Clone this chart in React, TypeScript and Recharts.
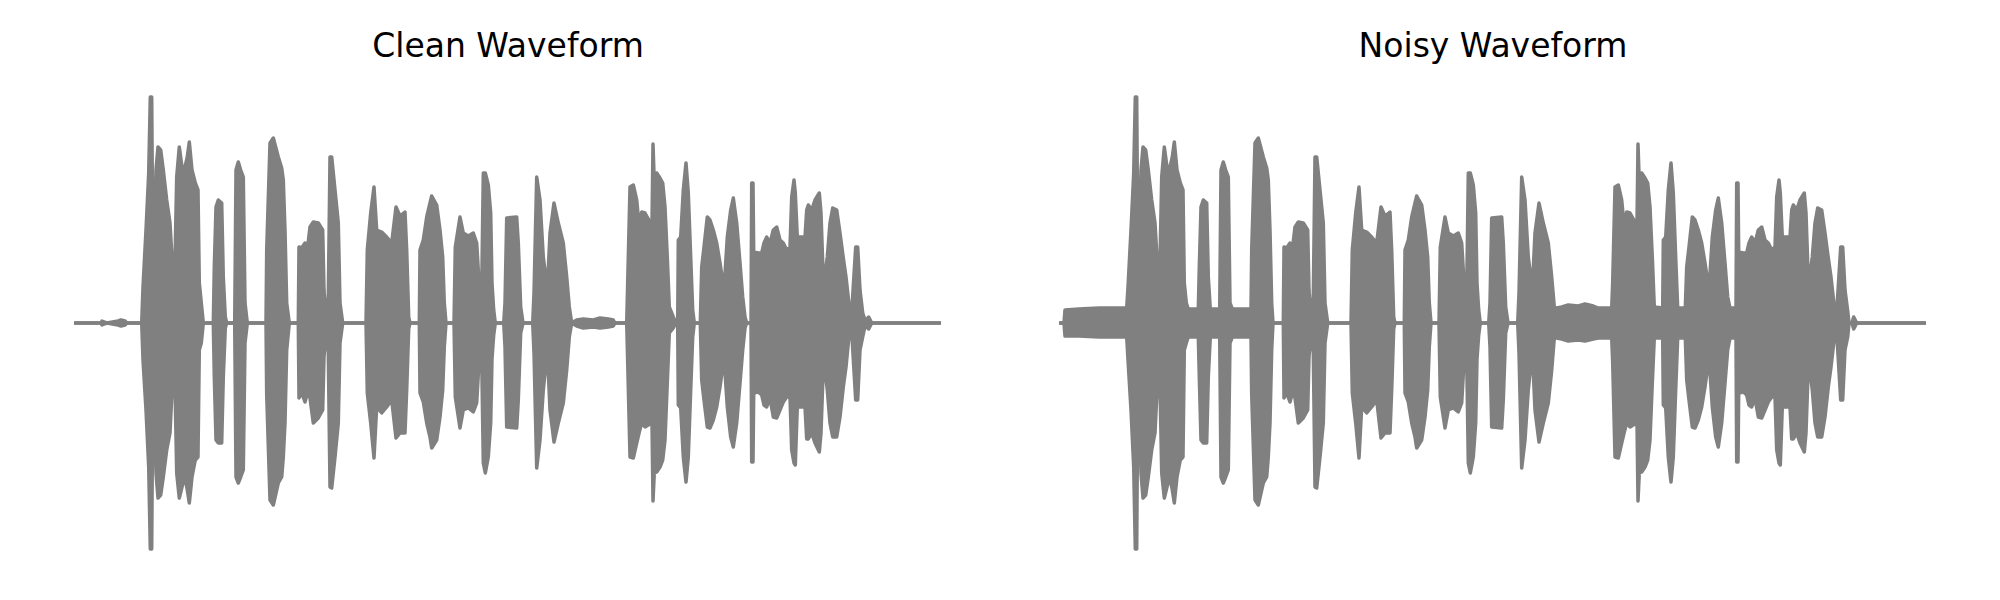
import React from 'react';
import { AreaChart, Area, XAxis, YAxis } from 'recharts';

// [time (s), upper envelope, lower envelope]
type Envelope = [number, number, number][];

const panelTitles = ['Clean Waveform', 'Noisy Waveform'];

const cleanEnvelope: Envelope = [
  [0.01, 0, 0], [0.27, 0, 0], [0.28, 0.002, -0.002], [0.3, 0.001, -0.001], [0.33, 0, 0],
  [0.44, 0.002, -0.002], [0.47, 0.003, -0.003], [0.51, 0.002, -0.002], [0.53, 0, 0],
  [0.677, 0, 0], [0.69, 0.036, -0.037], [0.72, 0.093, -0.087], [0.747, 0.15, -0.144],
  [0.763, 0.226, -0.226], [0.777, 0.226, -0.226], [0.787, 0.086, -0.08], [0.803, 0.083, -0.087],
  [0.82, 0.153, -0.15], [0.84, 0.176, -0.175], [0.867, 0.173, -0.172], [0.893, 0.153, -0.154],
  [0.927, 0.123, -0.127], [0.96, 0.1, -0.11], [0.987, 0.053, -0.054], [1.007, 0.046, -0.047],
  [1.027, 0.146, -0.15], [1.053, 0.176, -0.175], [1.08, 0.156, -0.164], [1.11, 0.156, -0.154],
  [1.133, 0.166, -0.167], [1.153, 0.181, -0.18], [1.18, 0.153, -0.154], [1.213, 0.14, -0.137],
  [1.24, 0.133, -0.134], [1.253, 0.04, -0.027], [1.273, 0.02, -0.02], [1.293, 0, 0],
  [1.393, 0, 0], [1.403, 0.056, -0.054], [1.42, 0.116, -0.117], [1.443, 0.123, -0.12],
  [1.477, 0.12, -0.12], [1.493, 0.046, -0.054], [1.513, 0.006, -0.005], [1.527, 0, 0],
  [1.607, 0, 0], [1.62, 0.153, -0.154], [1.643, 0.161, -0.16], [1.667, 0.153, -0.154],
  [1.693, 0.146, -0.147], [1.71, 0.02, -0.02], [1.733, 0, 0],
  [1.92, 0, 0], [1.927, 0.073, -0.072], [1.96, 0.18, -0.177], [1.993, 0.185, -0.182],
  [2.043, 0.166, -0.16], [2.077, 0.155, -0.154], [2.093, 0.143, -0.134], [2.11, 0.093, -0.1],
  [2.127, 0.02, -0.027], [2.153, 0, 0],
  [2.243, 0, 0], [2.25, 0.076, -0.075], [2.277, 0.075, -0.07], [2.31, 0.08, -0.079],
  [2.333, 0.073, -0.07], [2.36, 0.096, -0.075], [2.393, 0.101, -0.1], [2.443, 0.1, -0.095],
  [2.487, 0.093, -0.087], [2.5, 0.033, -0.034], [2.52, 0.006, -0.007], [2.543, 0.026, -0.03],
  [2.56, 0.166, -0.164], [2.577, 0.166, -0.165], [2.61, 0.133, -0.134], [2.643, 0.1, -0.1],
  [2.66, 0.02, -0.02], [2.687, 0, 0],
  [2.92, 0, 0], [2.933, 0.073, -0.07], [2.967, 0.11, -0.1], [3.0, 0.136, -0.135],
  [3.027, 0.093, -0.084], [3.077, 0.091, -0.09], [3.127, 0.086, -0.084], [3.177, 0.08, -0.077],
  [3.22, 0.116, -0.115], [3.26, 0.107, -0.11], [3.31, 0.111, -0.11], [3.327, 0.073, -0.067],
  [3.347, 0.006, -0.006], [3.36, 0, 0],
  [3.453, 0, 0], [3.46, 0.073, -0.07], [3.493, 0.083, -0.079], [3.527, 0.106, -0.1],
  [3.56, 0.12, -0.114], [3.577, 0.127, -0.125], [3.627, 0.118, -0.117], [3.66, 0.093, -0.094],
  [3.687, 0.066, -0.067], [3.703, 0.02, -0.024], [3.72, 0, 0],
  [3.8, 0, 0], [3.813, 0.076, -0.074], [3.86, 0.106, -0.105], [3.893, 0.09, -0.087],
  [3.943, 0.087, -0.085], [3.993, 0.09, -0.089], [4.027, 0.08, -0.08], [4.053, 0.036, -0.034],
  [4.077, 0.033, -0.035], [4.093, 0.15, -0.14], [4.113, 0.15, -0.15], [4.143, 0.138, -0.134],
  [4.167, 0.11, -0.1], [4.18, 0.04, -0.036], [4.197, 0.013, -0.012], [4.213, 0, 0],
  [4.297, 0, 0], [4.31, 0.02, -0.024], [4.327, 0.105, -0.104], [4.427, 0.106, -0.105],
  [4.443, 0.08, -0.077], [4.467, 0.016, -0.01], [4.49, 0, 0],
  [4.587, 0, 0], [4.6, 0.03, -0.03], [4.627, 0.146, -0.145], [4.66, 0.123, -0.117],
  [4.693, 0.066, -0.067], [4.733, 0.033, -0.027], [4.76, 0.09, -0.087], [4.8, 0.12, -0.119],
  [4.843, 0.1, -0.1], [4.893, 0.08, -0.08], [4.927, 0.046, -0.047], [4.953, 0.016, -0.014],
  [4.977, 0, 0], [5.027, 0.003, -0.003], [5.093, 0.004, -0.005], [5.193, 0.003, -0.004],
  [5.26, 0.005, -0.005], [5.343, 0.004, -0.004], [5.393, 0.003, -0.003], [5.41, 0, 0],
  [5.527, 0, 0], [5.537, 0.041, -0.04], [5.56, 0.136, -0.134], [5.593, 0.138, -0.135],
  [5.627, 0.123, -0.12], [5.653, 0.095, -0.109], [5.677, 0.111, -0.1], [5.71, 0.11, -0.104],
  [5.76, 0.101, -0.101], [5.78, 0.1, -0.1], [5.79, 0.179, -0.178], [5.803, 0.14, -0.15],
  [5.827, 0.15, -0.149], [5.86, 0.145, -0.144], [5.887, 0.14, -0.137], [5.91, 0.116, -0.117],
  [5.933, 0.066, -0.06], [5.953, 0.016, -0.01], [5.993, 0.006, -0.005], [6.02, 0, 0],
  [6.037, 0, 0], [6.043, 0.083, -0.082], [6.067, 0.086, -0.085], [6.093, 0.133, -0.134],
  [6.12, 0.16, -0.159], [6.143, 0.13, -0.134], [6.167, 0.066, -0.067], [6.187, 0.013, -0.014],
  [6.203, 0, 0],
  [6.263, 0, 0], [6.277, 0.056, -0.057], [6.3, 0.076, -0.077], [6.333, 0.106, -0.104],
  [6.36, 0.103, -0.105], [6.393, 0.093, -0.097], [6.427, 0.08, -0.084], [6.46, 0.06, -0.064],
  [6.5, 0.033, -0.034], [6.533, 0.086, -0.084], [6.567, 0.113, -0.114], [6.593, 0.125, -0.124],
  [6.627, 0.1, -0.1], [6.66, 0.06, -0.06], [6.687, 0.026, -0.027], [6.71, 0.006, -0.005],
  [6.727, 0, 0],
  [6.77, 0, 0], [6.777, 0.14, -0.139], [6.79, 0.14, -0.139], [6.797, 0.071, -0.07],
  [6.843, 0.07, -0.069], [6.877, 0.07, -0.072], [6.9, 0.08, -0.082], [6.927, 0.086, -0.084],
  [6.96, 0.08, -0.075], [6.993, 0.093, -0.094], [7.027, 0.096, -0.095], [7.06, 0.083, -0.087],
  [7.093, 0.08, -0.079], [7.127, 0.073, -0.074], [7.16, 0.076, -0.074], [7.177, 0.126, -0.127],
  [7.2, 0.143, -0.14], [7.213, 0.13, -0.142], [7.233, 0.086, -0.084], [7.31, 0.086, -0.084],
  [7.327, 0.113, -0.116], [7.343, 0.118, -0.116], [7.377, 0.113, -0.11], [7.41, 0.123, -0.12],
  [7.453, 0.13, -0.129], [7.47, 0.11, -0.11], [7.493, 0.043, -0.044], [7.513, 0.05, -0.05],
  [7.533, 0.066, -0.067], [7.56, 0.1, -0.1], [7.587, 0.115, -0.114], [7.627, 0.113, -0.114],
  [7.66, 0.09, -0.094], [7.693, 0.065, -0.064], [7.72, 0.046, -0.044], [7.753, 0.016, -0.01],
  [7.78, 0.016, -0.014], [7.817, 0.076, -0.077], [7.837, 0.076, -0.077], [7.86, 0.033, -0.027],
  [7.887, 0.01, -0.014], [7.913, 0.002, -0.002], [7.947, 0.006, -0.006], [7.977, 0, 0],
  [8.66, 0, 0],
];

const noisyEnvelope: Envelope = [
  [0.01, 0, 0], [0.05, 0, 0], [0.06, 0.013, -0.013], [0.2, 0.014, -0.013], [0.4, 0.015, -0.014],
  [0.6, 0.015, -0.014], [0.677, 0.015, -0.014], [0.69, 0.036, -0.037], [0.72, 0.093, -0.087],
  [0.747, 0.15, -0.144], [0.763, 0.226, -0.226], [0.777, 0.226, -0.226], [0.787, 0.086, -0.08],
  [0.803, 0.083, -0.087], [0.82, 0.153, -0.15], [0.84, 0.176, -0.175], [0.867, 0.173, -0.172],
  [0.893, 0.153, -0.154], [0.927, 0.123, -0.127], [0.96, 0.1, -0.11], [0.987, 0.053, -0.054],
  [1.007, 0.046, -0.047], [1.027, 0.146, -0.15], [1.053, 0.176, -0.175], [1.08, 0.156, -0.164],
  [1.11, 0.156, -0.154], [1.133, 0.166, -0.167], [1.153, 0.181, -0.18], [1.18, 0.153, -0.154],
  [1.213, 0.14, -0.137], [1.24, 0.133, -0.134], [1.253, 0.04, -0.027], [1.273, 0.02, -0.02],
  [1.293, 0.014, -0.014], [1.393, 0.014, -0.014], [1.403, 0.056, -0.054], [1.42, 0.116, -0.117],
  [1.443, 0.123, -0.12], [1.477, 0.12, -0.12], [1.493, 0.046, -0.054], [1.513, 0.014, -0.014],
  [1.607, 0.014, -0.014], [1.62, 0.153, -0.154], [1.643, 0.161, -0.16], [1.667, 0.153, -0.154],
  [1.693, 0.146, -0.147], [1.71, 0.02, -0.02], [1.733, 0.014, -0.014], [1.92, 0.014, -0.014],
  [1.927, 0.073, -0.072], [1.96, 0.18, -0.177], [1.993, 0.185, -0.182], [2.043, 0.166, -0.16],
  [2.077, 0.155, -0.154], [2.093, 0.143, -0.134], [2.11, 0.093, -0.1], [2.127, 0.02, -0.027],
  [2.14, 0, 0], [2.153, 0, 0],
  [2.243, 0, 0], [2.25, 0.076, -0.075], [2.277, 0.075, -0.07], [2.31, 0.08, -0.079],
  [2.333, 0.073, -0.07], [2.36, 0.096, -0.075], [2.393, 0.101, -0.1], [2.443, 0.1, -0.095],
  [2.487, 0.093, -0.087], [2.5, 0.033, -0.034], [2.52, 0.006, -0.007], [2.543, 0.026, -0.03],
  [2.56, 0.166, -0.164], [2.577, 0.166, -0.165], [2.61, 0.133, -0.134], [2.643, 0.1, -0.1],
  [2.66, 0.02, -0.02], [2.687, 0, 0],
  [2.92, 0, 0], [2.933, 0.073, -0.07], [2.967, 0.11, -0.1], [3.0, 0.136, -0.135],
  [3.027, 0.093, -0.084], [3.077, 0.091, -0.09], [3.127, 0.086, -0.084], [3.177, 0.08, -0.077],
  [3.22, 0.116, -0.115], [3.26, 0.107, -0.11], [3.31, 0.111, -0.11], [3.327, 0.073, -0.067],
  [3.347, 0.006, -0.006], [3.36, 0, 0],
  [3.453, 0, 0], [3.46, 0.073, -0.07], [3.493, 0.083, -0.079], [3.527, 0.106, -0.1],
  [3.56, 0.12, -0.114], [3.577, 0.127, -0.125], [3.627, 0.118, -0.117], [3.66, 0.093, -0.094],
  [3.687, 0.066, -0.067], [3.703, 0.02, -0.024], [3.72, 0, 0],
  [3.8, 0, 0], [3.813, 0.076, -0.074], [3.86, 0.106, -0.105], [3.893, 0.09, -0.087],
  [3.943, 0.087, -0.085], [3.993, 0.09, -0.089], [4.027, 0.08, -0.08], [4.053, 0.036, -0.034],
  [4.077, 0.033, -0.035], [4.093, 0.15, -0.14], [4.113, 0.15, -0.15], [4.143, 0.138, -0.134],
  [4.167, 0.11, -0.1], [4.18, 0.04, -0.036], [4.197, 0.013, -0.012], [4.213, 0, 0],
  [4.297, 0, 0], [4.31, 0.02, -0.024], [4.327, 0.105, -0.104], [4.427, 0.106, -0.105],
  [4.443, 0.08, -0.077], [4.467, 0.016, -0.01], [4.49, 0, 0],
  [4.587, 0, 0], [4.6, 0.03, -0.03], [4.627, 0.146, -0.145], [4.66, 0.123, -0.117],
  [4.693, 0.066, -0.067], [4.733, 0.033, -0.027], [4.76, 0.09, -0.087], [4.8, 0.12, -0.119],
  [4.843, 0.1, -0.1], [4.893, 0.08, -0.08], [4.927, 0.046, -0.047], [4.953, 0.016, -0.015],
  [4.977, 0.015, -0.015], [5.027, 0.016, -0.016], [5.093, 0.018, -0.018], [5.193, 0.017, -0.017],
  [5.26, 0.019, -0.018], [5.343, 0.017, -0.016], [5.393, 0.015, -0.015], [5.527, 0.015, -0.015],
  [5.537, 0.041, -0.04], [5.56, 0.136, -0.134], [5.593, 0.138, -0.135], [5.627, 0.123, -0.12],
  [5.653, 0.095, -0.109], [5.677, 0.111, -0.1], [5.71, 0.11, -0.104], [5.76, 0.101, -0.101],
  [5.78, 0.1, -0.1], [5.79, 0.179, -0.178], [5.803, 0.14, -0.15], [5.827, 0.15, -0.149],
  [5.86, 0.145, -0.144], [5.887, 0.14, -0.137], [5.91, 0.116, -0.117], [5.933, 0.066, -0.06],
  [5.953, 0.016, -0.015], [6.037, 0.015, -0.015], [6.043, 0.083, -0.082], [6.067, 0.086, -0.085],
  [6.093, 0.133, -0.134], [6.12, 0.16, -0.159], [6.143, 0.13, -0.134], [6.167, 0.066, -0.067],
  [6.187, 0.015, -0.015], [6.263, 0.015, -0.015], [6.277, 0.056, -0.057], [6.3, 0.076, -0.077],
  [6.333, 0.106, -0.104], [6.36, 0.103, -0.105], [6.393, 0.093, -0.097], [6.427, 0.08, -0.084],
  [6.46, 0.06, -0.064], [6.5, 0.033, -0.034], [6.533, 0.086, -0.084], [6.567, 0.113, -0.114],
  [6.593, 0.125, -0.124], [6.627, 0.1, -0.1], [6.66, 0.06, -0.06], [6.687, 0.026, -0.027],
  [6.71, 0.015, -0.015], [6.77, 0.015, -0.015], [6.777, 0.14, -0.139], [6.79, 0.14, -0.139],
  [6.797, 0.071, -0.07], [6.843, 0.07, -0.069], [6.877, 0.07, -0.072], [6.9, 0.08, -0.082],
  [6.927, 0.086, -0.084], [6.96, 0.08, -0.075], [6.993, 0.093, -0.094], [7.027, 0.096, -0.095],
  [7.06, 0.083, -0.087], [7.093, 0.08, -0.079], [7.127, 0.073, -0.074], [7.16, 0.076, -0.074],
  [7.177, 0.126, -0.127], [7.2, 0.143, -0.14], [7.213, 0.13, -0.142], [7.233, 0.086, -0.084],
  [7.31, 0.086, -0.084], [7.327, 0.113, -0.116], [7.343, 0.118, -0.116], [7.377, 0.113, -0.11],
  [7.41, 0.123, -0.12], [7.453, 0.13, -0.129], [7.47, 0.11, -0.11], [7.493, 0.043, -0.044],
  [7.513, 0.05, -0.05], [7.533, 0.066, -0.067], [7.56, 0.1, -0.1], [7.587, 0.115, -0.114],
  [7.627, 0.113, -0.114], [7.66, 0.09, -0.094], [7.693, 0.065, -0.064], [7.72, 0.046, -0.044],
  [7.753, 0.016, -0.015], [7.78, 0.016, -0.015], [7.817, 0.076, -0.077], [7.837, 0.076, -0.077],
  [7.86, 0.033, -0.027], [7.887, 0.012, -0.014], [7.9, 0, 0], [7.93, 0, 0], [7.947, 0.006, -0.006],
  [7.977, 0, 0], [8.66, 0, 0],
];

const timeDomain: [number, number] = [0, 8.67];
const ampDomain: [number, number] = [-0.25, 0.25];
const WAVE_COLOR = '#808080';

function toRows(env: Envelope) {
  return env.map(([t, hi, lo]) => ({ t, range: [lo, hi] }));
}

function Panel({ env, left, title }: { env: Envelope; left: number; title: string }) {
  return (
    <div style={{ position: 'absolute', left, top: 0, width: 1000, height: 600 }}>
      <AreaChart
        width={1000}
        height={600}
        data={toRows(env)}
        margin={{ top: 73, right: 59, bottom: 27, left: 74 }}
      >
        <XAxis type="number" dataKey="t" domain={timeDomain} hide allowDataOverflow />
        <YAxis type="number" domain={ampDomain} hide allowDataOverflow />
        <Area
          type="linear"
          dataKey="range"
          stroke={WAVE_COLOR}
          strokeWidth={3.5}
          strokeLinejoin="round"
          strokeLinecap="round"
          fill={WAVE_COLOR}
          fillOpacity={1}
          dot={false}
          activeDot={false}
          isAnimationActive={false}
        />
      </AreaChart>
      <svg
        width={1000}
        height={80}
        style={{ position: 'absolute', left: 0, top: 0, pointerEvents: 'none' }}
      >
        <text
          x={508}
          y={57}
          textAnchor="middle"
          fontFamily="'DejaVu Sans', sans-serif"
          fontSize={33}
          fill="#000"
        >
          {title}
        </text>
      </svg>
    </div>
  );
}

export default function App() {
  return (
    <div
      style={{
        position: 'absolute',
        left: 0,
        top: 0,
        width: 2000,
        height: 600,
        background: '#ffffff',
        overflow: 'hidden',
      }}
    >
      <Panel env={cleanEnvelope} left={0} title={panelTitles[0]} />
      <Panel env={noisyEnvelope} left={985} title={panelTitles[1]} />
    </div>
  );
}
